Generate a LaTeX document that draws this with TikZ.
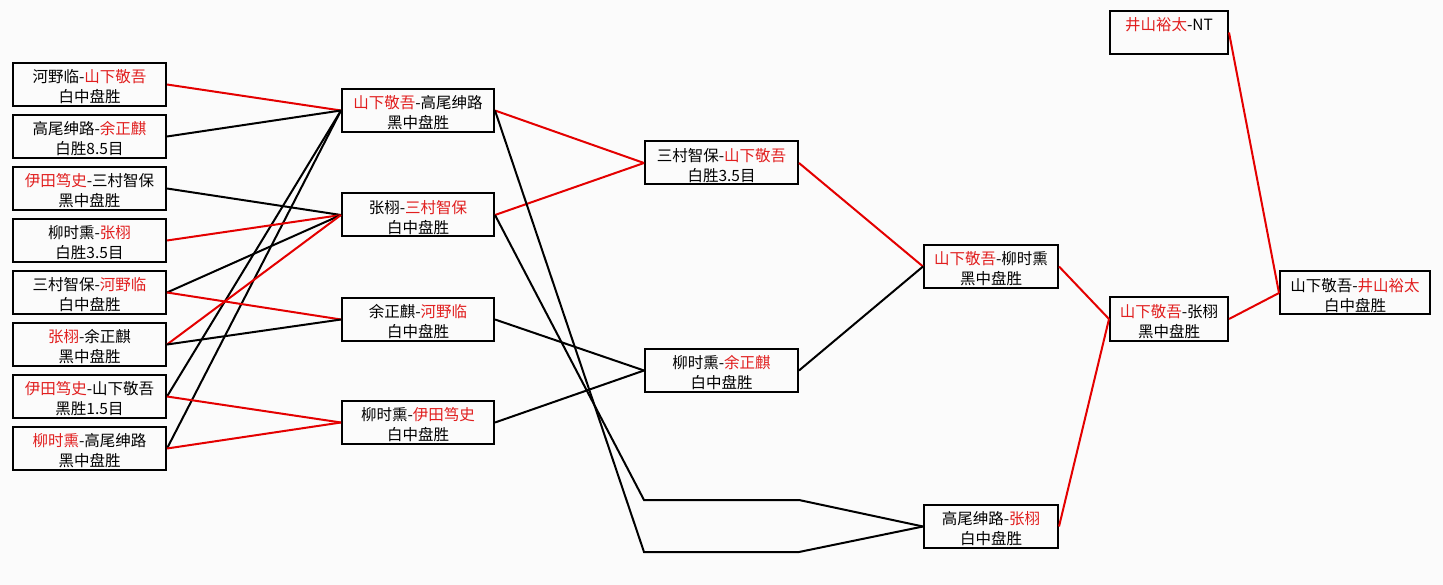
\documentclass[tikz,border=0pt]{standalone}
\usepackage{fontspec}
\newfontfamily\cjk{Noto Sans CJK SC}
\definecolor{lred}{RGB}{228,0,0}
\definecolor{tred}{RGB}{225,30,30}
\definecolor{bgc}{RGB}{251,251,251}
\newcommand\mytop{\rule{0pt}{18.4pt}}
\newcommand\mybot{\rule[-2pt]{0pt}{2pt}}
\newcommand\rd[1]{\textcolor{tred}{#1}}
\begin{document}
\begin{tikzpicture}[x=1pt,y=-1pt,
  box/.style={draw=black,line width=2pt,minimum width=#1,minimum height=43pt,inner sep=0pt,align=center,font=\cjk\fontsize{15.5}{20}\selectfont},
  bl/.style={draw=black,line width=2pt},
  rl/.style={draw=lred,line width=2pt}]
\fill[bgc] (0,0) rectangle (1443,585);
\useasboundingbox (0,0) rectangle (1443,585);
% first round
\node[box=153pt] (L1) at (89.5,84.5)  {\mytop 河野临-\rd{山下敬吾}\\白中盘胜\mybot};
\node[box=153pt] (L2) at (89.5,136.5) {\mytop 高尾绅路-\rd{余正麒}\\白胜8.5目\mybot};
\node[box=153pt] (L3) at (89.5,188.5) {\mytop\rd{伊田笃史}-三村智保\\黑中盘胜\mybot};
\node[box=153pt] (L4) at (89.5,240.5) {\mytop 柳时熏-\rd{张栩}\\白胜3.5目\mybot};
\node[box=153pt] (L5) at (89.5,292.5) {\mytop 三村智保-\rd{河野临}\\白中盘胜\mybot};
\node[box=153pt] (L6) at (89.5,344.5) {\mytop\rd{张栩}-余正麒\\黑中盘胜\mybot};
\node[box=153pt] (L7) at (89.5,396.5) {\mytop\rd{伊田笃史}-山下敬吾\\黑胜1.5目\mybot};
\node[box=153pt] (L8) at (89.5,448.5) {\mytop\rd{柳时熏}-高尾绅路\\黑中盘胜\mybot};
% second round
\node[box=152pt] (A1) at (418,110.5) {\mytop\rd{山下敬吾}-高尾绅路\\黑中盘胜\mybot};
\node[box=152pt] (A2) at (418,215)   {\mytop 张栩-\rd{三村智保}\\白中盘胜\mybot};
\node[box=152pt] (A3) at (418,319.5) {\mytop 余正麒-\rd{河野临}\\白中盘胜\mybot};
\node[box=152pt] (A4) at (418,422.5) {\mytop 柳时熏-\rd{伊田笃史}\\白中盘胜\mybot};
% third round
\node[box=153pt] (B1) at (721.5,163)   {\mytop 三村智保-\rd{山下敬吾}\\白胜3.5目\mybot};
\node[box=153pt] (B2) at (721.5,370.5) {\mytop 柳时熏-\rd{余正麒}\\白中盘胜\mybot};
% fourth
\node[box=134pt] (C1) at (991,266.5) {\mytop\rd{山下敬吾}-柳时熏\\黑中盘胜\mybot};
\node[box=134pt] (C2) at (991,526.5) {\mytop 高尾绅路-\rd{张栩}\\白中盘胜\mybot};
% fifth
\node[box=118pt] (D1) at (1169,319)  {\mytop\rd{山下敬吾}-张栩\\黑中盘胜\mybot};
\node[box=118pt] (NT) at (1169,32.5) {\mytop\rd{井山裕太}-NT\\\mybot};
\node[box=150pt] (F)  at (1355,293)  {\mytop 山下敬吾-\rd{井山裕太}\\白中盘胜\mybot};
% bends
\coordinate (p1) at (644,500);
\coordinate (p2) at (799,500);
\coordinate (q1) at (644,552);
\coordinate (q2) at (799,552);
% connectors round 1 -> 2
\draw[rl] (L1.east) -- (A1.west);
\draw[bl] (L2.east) -- (A1.west);
\draw[bl] (L7.east) -- (A1.west);
\draw[bl] (L8.east) -- (A1.west);
\draw[bl] (L3.east) -- (A2.west);
\draw[rl] (L4.east) -- (A2.west);
\draw[bl] (L5.east) -- (A2.west);
\draw[rl] (L6.east) -- (A2.west);
\draw[rl] (L5.east) -- (A3.west);
\draw[bl] (L6.east) -- (A3.west);
\draw[rl] (L7.east) -- (A4.west);
\draw[rl] (L8.east) -- (A4.west);
% round 2 -> 3
\draw[rl] (A1.east) -- (B1.west);
\draw[rl] (A2.east) -- (B1.west);
\draw[bl] (A3.east) -- (B2.west);
\draw[bl] (A4.east) -- (B2.west);
\draw[bl] (A2.east) -- (p1) -- (p2) -- (C2.west);
\draw[bl] (A1.east) -- (q1) -- (q2) -- (C2.west);
% round 3 -> 4
\draw[rl] (B1.east) -- (C1.west);
\draw[bl] (B2.east) -- (C1.west);
% later rounds
\draw[rl] (C1.east) -- (D1.west);
\draw[rl] (C2.east) -- (D1.west);
\draw[rl] (D1.east) -- (F.west);
\draw[rl] (NT.east) -- (F.west);
\end{tikzpicture}
\end{document}
